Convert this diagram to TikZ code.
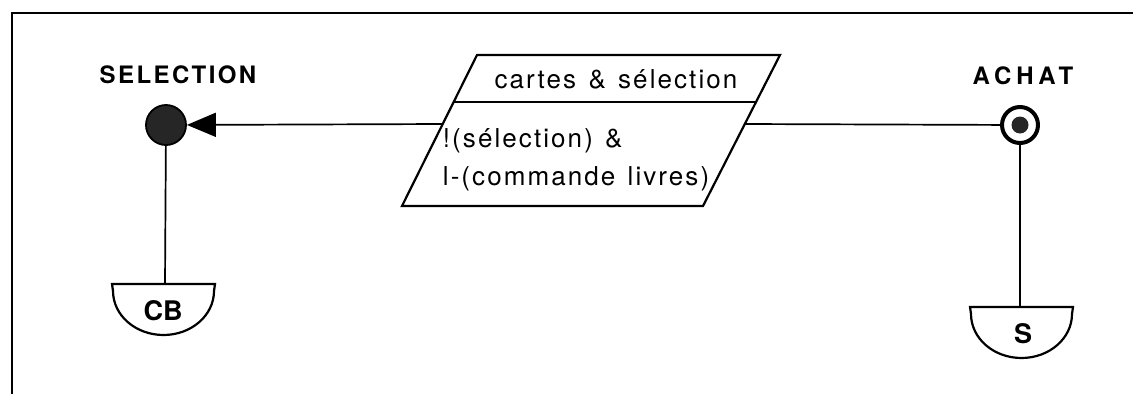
\documentclass[tikz,border=0pt]{standalone}
\usepackage{fontspec}
\setmainfont{TeX Gyre Heros}
\usetikzlibrary{arrows.meta}
\begin{document}
\begin{tikzpicture}[x=1pt,y=-1pt,line width=1.8pt,
  lbl/.style={inner sep=0pt,font={\fontsize{24}{28}\selectfont\bfseries\addfontfeature{LetterSpace=10}}},
  txt/.style={inner sep=0pt,font={\fontsize{26}{30}\selectfont\addfontfeature{LetterSpace=8}}},
  stxt/.style={inner sep=0pt,font={\fontsize{27}{30}\selectfont\bfseries}},
  statedot/.style={circle,draw,fill=black!85,minimum size=40pt,inner sep=0pt},
  endstate/.style={circle,draw,line width=4pt,minimum size=36pt,inner sep=0pt},
  conn/.style={line width=1.7pt},
  shp/.style={line width=2.2pt}]
\useasboundingbox (0,0) rectangle (1133,394);
% frame
\draw[line width=2.2pt] (12,394) -- (12,13) -- (1133,13);
% states
\node[statedot] (sel) at (166,125) {};
\node[lbl] (selL) at (178,75) {SELECTION};
\node[endstate] (ach) at (1020,125) {};
\fill[black!85] (ach.center) circle (8.5);
\node[lbl] (achL) at (1023,76) {\addfontfeature{LetterSpace=20}ACHAT};
% transition parallelogram
\draw[shp] (477,55) -- (780,55) -- (703,206) -- (402,206) -- cycle;
\draw[shp] (454,102) -- (755,102);
\coordinate (pL) at (443,124);
\coordinate (pR) at (745,124);
\node[txt,anchor=base] (t1) at (616,88) {cartes \hspace{3pt}\&\hspace{3pt} sélection};
\node[txt,anchor=base west] (t2) at (442,147) {!(sélection) \hspace{3pt}\&};
\node[txt,anchor=base west] (t3) at (442,185) {l-(commande \hspace{3pt}livres)};
% stores
\draw[shp] (112,284) -- (215,284) -- (214,291) arc[start angle=0,end angle=180,x radius=50.5,y radius=44] -- cycle;
\coordinate (cbtop) at (165,284);
\node[stxt] (cb) at (163,311) {CB};
\draw[shp] (970,307) -- (1073,307) -- (1072,314) arc[start angle=0,end angle=180,x radius=50.5,y radius=44] -- cycle;
\coordinate (stop) at (1020,307);
\node[stxt] (s) at (1023,334) {S};
% connectors
\draw[conn,-{Triangle[length=29pt,width=24pt]}] (pL) -- (sel);
\draw[conn] (pR) -- (ach);
\draw[conn] (sel) -- (cbtop);
\draw[conn] (ach) -- (stop);
\end{tikzpicture}
\end{document}
